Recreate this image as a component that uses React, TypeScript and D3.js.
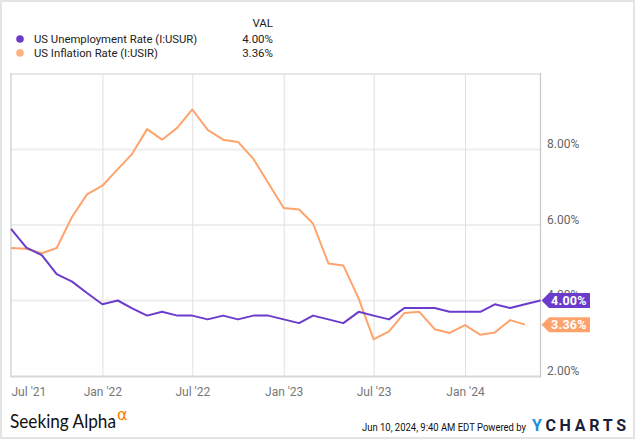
import React from "react";
import * as d3 from "d3";

const months: string[] = [
  "2021-06","2021-07","2021-08","2021-09","2021-10","2021-11","2021-12",
  "2022-01","2022-02","2022-03","2022-04","2022-05","2022-06","2022-07","2022-08","2022-09","2022-10","2022-11","2022-12",
  "2023-01","2023-02","2023-03","2023-04","2023-05","2023-06","2023-07","2023-08","2023-09","2023-10","2023-11","2023-12",
  "2024-01","2024-02","2024-03","2024-04","2024-05",
];
const unemployment: number[] = [
  5.9,5.4,5.2,4.7,4.5,4.2,3.9,
  4.0,3.8,3.6,3.7,3.6,3.6,3.5,3.6,3.5,3.6,3.6,3.5,
  3.4,3.6,3.5,3.4,3.7,3.6,3.5,3.8,3.8,3.8,3.7,3.7,
  3.7,3.9,3.8,3.9,4.0,
];
const inflation: number[] = [
  5.39,5.37,5.25,5.39,6.22,6.81,7.04,
  7.48,7.87,8.54,8.26,8.58,9.06,8.52,8.26,8.20,7.75,7.11,6.45,
  6.41,6.04,4.98,4.93,4.05,2.97,3.18,3.67,3.70,3.24,3.14,3.35,
  3.09,3.15,3.48,3.36,
];
const seriesNames: string[] = ["US Unemployment Rate (I:USUR)", "US Inflation Rate (I:USIR)"];
const seriesLabels: string[] = ["4.00%", "3.36%"];
const yTicks: number[] = [2, 4, 6, 8];
const xTickDates: string[] = ["2021-07-01","2022-01-01","2022-07-01","2023-01-01","2023-07-01","2024-01-01"];

const PURPLE = "#6b3ccb";
const ORANGE = "#ffa36c";

const parseMonth = d3.timeParse("%Y-%m");
const monthEnd = (m: string) => d3.timeDay.offset(d3.timeMonth.offset(parseMonth(m) as Date, 1), -1);
const parseDay = d3.timeParse("%Y-%m-%d");

export default function App() {
  const W = 635, H = 439;
  const left = 11, right = 540.5, top = 74, bottom = 376;
  const dates = months.map(monthEnd);
  const x = d3.scaleTime().domain([dates[0], dates[dates.length - 1]]).range([left, right]);
  const y = d3.scaleLinear().domain([2, 10]).range([bottom, top]);
  const line = d3.line<[Date, number]>().x(d => x(d[0])).y(d => y(d[1]));
  const uPath = line(unemployment.map((v, i) => [dates[i], v] as [Date, number])) || "";
  const iPath = line(inflation.map((v, i) => [dates[i], v] as [Date, number])) || "";
  const fmt = d3.timeFormat("%b '%y");
  const tickDates = xTickDates.map(s => parseDay(s) as Date);
  const flagVals = [unemployment[unemployment.length - 1], inflation[inflation.length - 1]];
  const flagColors = [PURPLE, ORANGE];
  const font = "Roboto, 'Noto Sans', sans-serif";

  return (
    <svg width={W} height={H} style={{ position: "absolute", left: 0, top: 0 }} fontFamily={font}>
      <rect x={1} y={1} width={W - 2} height={H - 2} fill="#fff" stroke="#e4e4e4" strokeWidth={2} />
      {/* legend */}
      <text x={273} y={27} textAnchor="end" fontSize={11.5} fill="#222">VAL</text>
      {seriesNames.map((n, i) => (
        <g key={n}>
          <circle cx={20} cy={39 + i * 14} r={3.8} fill={i === 0 ? PURPLE : "#ffb07f"} />
          <text x={34} y={43.3 + i * 14} fontSize={11.3} fill="#222">{n}</text>
          <text x={273} y={43.3 + i * 14} fontSize={11.5} fill="#222" textAnchor="end">{seriesLabels[i]}</text>
        </g>
      ))}
      {/* grid */}
      {yTicks.filter(t => t > 2).map(t => (
        <line key={t} x1={left} x2={right} y1={y(t)} y2={y(t)} stroke="#eeeeee" strokeWidth={2} />
      ))}
      {tickDates.slice(1).map((d, i) => (
        <line key={i} x1={x(d)} x2={x(d)} y1={top} y2={bottom} stroke="#e0e0e0" strokeWidth={1} />
      ))}
      <line x1={left} x2={right} y1={top} y2={top} stroke="#e8e8e8" strokeWidth={2} />
      <line x1={left} x2={right + 0.5} y1={bottom + 0.5} y2={bottom + 0.5} stroke="#d8d8d8" strokeWidth={2} />
      <line x1={left} x2={left} y1={top - 1} y2={bottom + 1} stroke="#cccccc" strokeWidth={1.2} />
      <line x1={right} x2={right} y1={top - 1} y2={bottom + 1} stroke="#c8c8c8" strokeWidth={1.2} />
      {/* axes labels */}
      {yTicks.map(t => (
        <text key={t} x={547} y={y(t) - 1.5} fontSize={12} fill="#666">{t.toFixed(2)}%</text>
      ))}
      {tickDates.map((d, i) => (
        <text key={i} x={i === 0 ? left + 0.5 : x(d)} y={395.5} fontSize={12} fill="#777"
          textAnchor={i === 0 ? "start" : "middle"}>{fmt(d)}</text>
      ))}
      {/* lines */}
      <path d={iPath} fill="none" stroke={ORANGE} strokeWidth={2} strokeLinejoin="round" />
      <path d={uPath} fill="none" stroke={PURPLE} strokeWidth={2} strokeLinejoin="round" />
      {/* flags */}
      {flagVals.map((v, i) => {
        const cy = y(v);
        const tip = 541.5;
        return (
          <g key={i}>
            <path d={`M${tip},${cy} L${tip + 7.5},${cy - 7.5} L590,${cy - 7.5} L590,${cy + 7.5} L${tip + 7.5},${cy + 7.5} Z`} fill={flagColors[i]} />
            <text x={551} y={cy + 4.5} fontSize={12.5} fontWeight="bold" fill="#fff" letterSpacing={0.3}>{seriesLabels[i]}</text>
          </g>
        );
      })}
      {/* footer */}
      <text x={10} y={428} fontSize={19} fill="#111" fontFamily="Lato, 'Open Sans', sans-serif" textLength={106} lengthAdjust="spacingAndGlyphs">Seeking Alpha</text>
      <text x={117} y={420} fontSize={16} fill="#ff7a00" fontFamily="'DejaVu Sans', sans-serif">α</text>
      <text x={362} y={430.7} fontSize={11.5} fill="#111" textLength={164} lengthAdjust="spacingAndGlyphs">Jun 10, 2024, 9:40 AM EDT Powered by</text>
      <text x={532} y={430.7} fontSize={16} fontWeight="bold" textLength={94} lengthAdjust="spacing">
        <tspan fill="#1a8fe0">Y</tspan><tspan fill="#1b1f3b">CHARTS</tspan>
      </text>
    </svg>
  );
}
